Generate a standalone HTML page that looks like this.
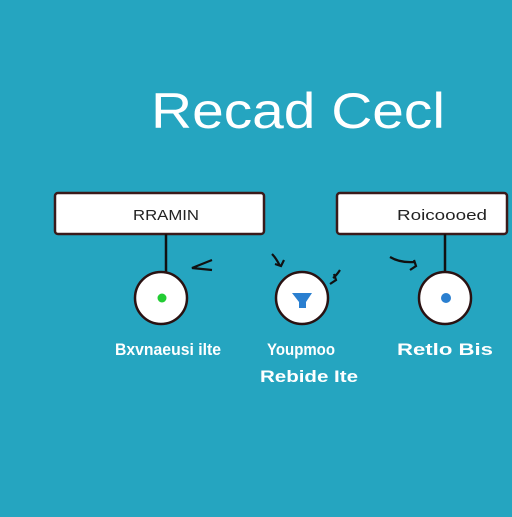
<!DOCTYPE html>
<html><head><style>
body{margin:0;width:512px;height:512px;background:#25a5c0;overflow:hidden;font-family:"Liberation Sans",sans-serif}
</style></head><body>
<svg width="512" height="512" viewBox="0 0 512 512" xmlns="http://www.w3.org/2000/svg">
<rect width="512" height="512" fill="#25a5c0"/>
<text x="298" y="128" text-anchor="middle" font-family="Liberation Sans" font-size="50" fill="#fff" textLength="294" lengthAdjust="spacingAndGlyphs">Recad Cecl</text>
<rect x="55" y="193" width="209" height="41" rx="3" fill="#fff" stroke="#3a1a1a" stroke-width="2.5"/>
<rect x="337" y="193" width="170" height="41" rx="3" fill="#fff" stroke="#3a1a1a" stroke-width="2.5"/>
<text x="166" y="220" text-anchor="middle" font-size="15" fill="#222" textLength="66" lengthAdjust="spacingAndGlyphs">RRAMIN</text>
<text x="442" y="220" text-anchor="middle" font-size="15" fill="#222" textLength="90" lengthAdjust="spacingAndGlyphs">Roicoooed</text>
<line x1="166" y1="234" x2="166" y2="272" stroke="#111" stroke-width="2.5"/>
<line x1="445" y1="234" x2="445" y2="272" stroke="#111" stroke-width="2.5"/>
<circle cx="161" cy="298" r="26" fill="#fff" stroke="#2a1212" stroke-width="2.5"/>
<circle cx="302" cy="298" r="26" fill="#fff" stroke="#2a1212" stroke-width="2.5"/>
<circle cx="445" cy="298" r="26" fill="#fff" stroke="#2a1212" stroke-width="2.5"/>
<circle cx="162" cy="298" r="4.5" fill="#22cc33"/>
<circle cx="446" cy="298" r="5" fill="#2a7fd0"/>
<path d="M292 293 L312 293 L306 302 L306 308 L299 308 L299 302 Z" fill="#2a7fd0"/>
<path d="M212 260 L192 268 L212 270" fill="none" stroke="#111" stroke-width="2.2"/>
<path d="M272 254 Q276 258 280 266 M275 264 L281 266 L284 260" fill="none" stroke="#111" stroke-width="2.2"/>
<path d="M340 270 Q336 276 333 278 M330 284 L336 280 L334 274" fill="none" stroke="#111" stroke-width="2.2"/>
<path d="M390 257 Q400 263 414 262 M410 270 L416 266 L414 260" fill="none" stroke="#111" stroke-width="2.2"/>
<g fill="#fff" font-weight="bold" font-size="17">
<text x="168" y="355" text-anchor="middle" textLength="106" lengthAdjust="spacingAndGlyphs">Bxvnaeusi ilte</text>
<text x="301" y="355" text-anchor="middle" textLength="68" lengthAdjust="spacingAndGlyphs">Youpmoo</text>
<text x="309" y="382" text-anchor="middle" textLength="98" lengthAdjust="spacingAndGlyphs">Rebide Ite</text>
<text x="445" y="355" text-anchor="middle" textLength="96" lengthAdjust="spacingAndGlyphs">Retlo Bis</text>
</g>
</svg>
</body></html>
